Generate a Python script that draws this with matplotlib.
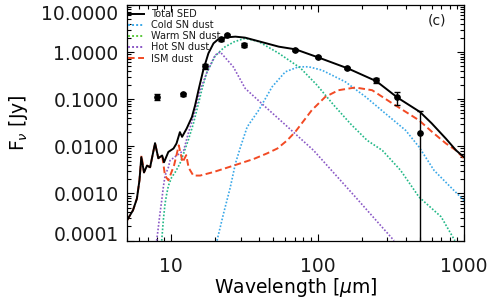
import matplotlib
matplotlib.use('Agg')
import matplotlib.pyplot as plt
from matplotlib.lines import Line2D
from matplotlib.ticker import LogLocator, FormatStrFormatter, NullFormatter

plt.rcParams['font.family'] = 'DejaVu Sans'
plt.rcParams['mathtext.fontset'] = 'dejavusans'
plt.rcParams['text.color'] = '#1a1a1a'
plt.rcParams['xtick.labelcolor'] = '#1a1a1a'
plt.rcParams['ytick.labelcolor'] = '#1a1a1a'

# photometry
obs_wave = [8, 12, 17, 22, 24, 31.5, 70, 100, 160, 250, 350, 500]
obs_flux = [0.110, 0.128, 0.50, 1.86, 2.30, 1.41, 1.10, 0.78, 0.46, 0.25, 0.11, 0.019]
obs_err = [0.016, 0.010, 0.07, 0.12, 0.15, 0.15, 0.06, 0.05, 0.03, 0.03, 0.033, 0.037]

# total SED
tot_wave = [5.0, 5.5, 5.85, 6.09, 6.27, 6.54, 6.86, 7.2, 7.78, 8.19, 8.7, 8.96, 9.59, 10.4,
            10.9, 11.5, 11.9, 12.8, 13.9, 14.6, 15.4, 16.6, 18.0, 19.5, 21.1, 22.2, 24.0,
            27.5, 32.0, 40.0, 54.4, 70.8, 101, 161, 252, 353, 500, 600, 753, 883, 1000]
tot_flux = [2.67e-4, 4.4e-4, 7.8e-4, 1.9e-3, 5.9e-3, 2.8e-3, 3.9e-3, 3.6e-3, 0.0117, 5.6e-3,
            6.4e-3, 4.6e-3, 7.6e-3, 9.0e-3, 0.0115, 0.020, 0.0159, 0.024, 0.042, 0.074, 0.155,
            0.414, 0.94, 1.53, 1.89, 1.96, 2.05, 2.12, 2.02, 1.68, 1.30, 1.14, 0.77, 0.45,
            0.241, 0.107, 0.0537, 0.031, 0.0145, 0.0082, 0.0059]

# cold SN dust
cold_wave = [20.6, 22.8, 25.4, 27.5, 29.8, 33.1, 39.7, 49.0, 60.3, 74.3, 87, 107, 155, 213,
             290, 399, 493, 624, 770, 1000]
cold_flux = [1e-4, 3.7e-4, 1.36e-3, 4.3e-3, 9.7e-3, 0.0258, 0.0585, 0.183, 0.381, 0.486,
             0.486, 0.414, 0.233, 0.112, 0.050, 0.0219, 9.7e-3, 3.1e-3, 1.6e-3, 7.1e-4]

# warm SN dust
warm_wave = [8.64, 8.86, 9.11, 9.36, 9.6, 10.1, 10.7, 11.5, 12.2, 13.1, 14.2, 15.4, 16.2,
             17.5, 20.0, 23.0, 27.0, 32.1, 39.7, 54.4, 76.5, 99.0, 129, 168, 218, 277, 369,
             493, 698, 866]
warm_flux = [1e-4, 2.7e-4, 6.2e-4, 1.0e-3, 1.46e-3, 2.2e-3, 2.85e-3, 4.3e-3, 7.1e-3, 0.0134,
             0.030, 0.081, 0.155, 0.36, 0.82, 1.25, 1.65, 1.96, 1.66, 0.94, 0.457, 0.20,
             0.075, 0.030, 0.0134, 8.2e-3, 3.1e-3, 8.4e-4, 3.2e-4, 1e-4]

# hot SN dust
hot_wave = [7.98, 8.19, 8.4, 8.64, 8.86, 9.11, 9.6, 9.84, 10.95, 12.2, 13.1, 14.2, 15.4,
            15.8, 17.5, 20.0, 21.7, 26.6, 32.1, 44.0, 60.3, 94, 178, 333]
hot_flux = [1e-4, 1.9e-4, 3.7e-4, 7.1e-4, 1.36e-3, 2.4e-3, 3.6e-3, 5.0e-3, 6.4e-3, 8.2e-3,
            0.0187, 0.042, 0.112, 0.155, 0.357, 0.86, 1.0, 0.486, 0.169, 0.069, 0.0286,
            8.2e-3, 9.0e-4, 1e-4]

# ISM dust
ism_wave = [5.0, 5.5, 5.85, 6.09, 6.29, 6.54, 6.86, 7.2, 7.78, 8.19, 8.7, 9.1, 9.6, 10.5,
            11.3, 12.0, 12.7, 13.2, 14.2, 15.8, 19.5, 26.7, 36.7, 45.3, 53.2, 62.1, 70.6,
            91.4, 113, 139, 181, 236, 325, 493, 608, 753, 883, 1000]
ism_flux = [2.67e-4, 4.4e-4, 7.8e-4, 1.9e-3, 6.4e-3, 2.8e-3, 3.9e-3, 3.6e-3, 0.0117, 5.6e-3,
            6.4e-3, 2.4e-3, 1.9e-3, 4.0e-3, 0.0105, 4.6e-3, 6.5e-3, 3.5e-3, 2.4e-3, 2.4e-3,
            2.85e-3, 3.9e-3, 5.4e-3, 7.1e-3, 9.0e-3, 0.0134, 0.0204, 0.0585, 0.112, 0.155,
            0.177, 0.155, 0.081, 0.0357, 0.020, 0.0115, 8.2e-3, 5.5e-3]

c_cold = '#3aa8e8'
c_warm = '#22b887'
c_warm_leg = '#5cc83c'
c_hot = '#8a58c6'
c_ism = '#f24a24'

fig = plt.figure(figsize=(4.9, 3.05), dpi=100)
ax = fig.add_axes([0.259, 0.211, 0.688, 0.773])

ax.plot(cold_wave, cold_flux, color=c_cold, lw=1.2, dashes=(1, 1.1))
ax.plot(warm_wave, warm_flux, color=c_warm, lw=1.2, dashes=(1, 1.1))
ax.plot(hot_wave, hot_flux, color=c_hot, lw=1.2, dashes=(1, 1.1))
ax.plot(ism_wave, ism_flux, color=c_ism, lw=1.4, dashes=(3.4, 1.8))
ax.plot(tot_wave, tot_flux, color='black', lw=1.4)
ax.errorbar(obs_wave, obs_flux, yerr=obs_err, fmt='o', color='black', ms=3.8,
            elinewidth=1.0, capsize=2.2, capthick=1.0)

ax.set_xscale('log')
ax.set_yscale('log', nonpositive='clip')
ax.set_xlim(5, 1000)
ax.set_ylim(1e-4, 10)

ax.xaxis.set_major_locator(LogLocator(base=10, numticks=10))
ax.xaxis.set_minor_locator(LogLocator(base=10, subs=range(2, 10), numticks=20))
ax.xaxis.set_major_formatter(FormatStrFormatter('%d'))
ax.xaxis.set_minor_formatter(NullFormatter())
ax.yaxis.set_major_locator(LogLocator(base=10, numticks=10))
ax.yaxis.set_minor_locator(LogLocator(base=10, subs=range(2, 10), numticks=20))
ax.yaxis.set_major_formatter(FormatStrFormatter('%.4f'))
ax.yaxis.set_minor_formatter(NullFormatter())

ax.tick_params(which='both', direction='in', top=True, right=True, width=0.8)
ax.tick_params(which='major', length=5)
ax.tick_params(which='minor', length=3)
ax.tick_params(axis='x', which='major', labelsize=13.5, pad=12)
ax.tick_params(axis='y', which='major', labelsize=13.5, pad=6)
for s in ax.spines.values():
    s.set_linewidth(0.9)

ax.set_xlabel(r'Wavelength [$\mu$m]', fontsize=13.5, labelpad=0)
ax.set_ylabel(r'F$_\nu$ [Jy]', fontsize=13.5, labelpad=8)

ax.text(0.92, 0.935, '(c)', transform=ax.transAxes, fontsize=10, ha='center', va='center')

handles = [Line2D([], [], color='black', lw=1.4),
           Line2D([], [], color=c_cold, lw=1.4, dashes=(1, 1.1)),
           Line2D([], [], color=c_warm_leg, lw=1.4, dashes=(1, 1.1)),
           Line2D([], [], color=c_hot, lw=1.4, dashes=(1, 1.1)),
           Line2D([], [], color=c_ism, lw=1.4, dashes=(3.4, 1.8))]
labels = ['Total SED', 'Cold SN dust', 'Warm SN dust', 'Hot SN dust', 'ISM dust']
ax.legend(handles, labels, loc='upper left', bbox_to_anchor=(-0.005, 0.995), frameon=False,
          fontsize=7, handlelength=1.6, handletextpad=0.8, labelspacing=0.12,
          borderpad=0.2, borderaxespad=0.1)

# keep the end labels inside the axis height, like the original
fig.canvas.draw()
for tick in ax.yaxis.get_major_ticks():
    if abs(tick.get_loc() - 10) < 1e-6:
        tick.label1.set_verticalalignment('top')
    if abs(tick.get_loc() - 1e-4) < 1e-10:
        tick.label1.set_verticalalignment('baseline')

fig.savefig('out.png', dpi=100)
